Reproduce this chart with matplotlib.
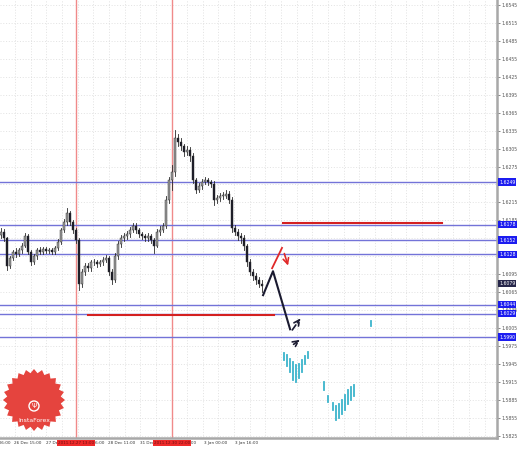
import numpy as np
import matplotlib
matplotlib.use("Agg")
import matplotlib.pyplot as plt
from matplotlib.patches import Polygon, Rectangle, Circle
import matplotlib.transforms as mtransforms

# Bougies (une toutes les 3 px environ)
closes = [1.6166, 1.6155, 1.6109, 1.6122, 1.6132, 1.6129, 1.6135, 1.6142, 1.6159, 1.6132,
          1.6115, 1.6125, 1.6135, 1.6132, 1.6137, 1.6134, 1.6135, 1.6132, 1.6139, 1.6149,
          1.6169, 1.6182, 1.6197, 1.6182, 1.6169, 1.6152, 1.6079, 1.6099, 1.6109, 1.6105,
          1.6115, 1.6115, 1.6112, 1.6115, 1.6119, 1.6122, 1.6099, 1.6085, 1.6125, 1.6145,
          1.6155, 1.6159, 1.6162, 1.6169, 1.6176, 1.6169, 1.6162, 1.6159, 1.6155, 1.6159,
          1.6152, 1.6142, 1.6166, 1.6169, 1.6176, 1.6219, 1.6252, 1.6266, 1.6323, 1.6316,
          1.6309, 1.6299, 1.6303, 1.6293, 1.6252, 1.6236, 1.6242, 1.6249, 1.6252, 1.6249,
          1.6246, 1.6219, 1.6222, 1.6226, 1.6226, 1.6229, 1.6219, 1.6172, 1.6166, 1.6159,
          1.6155, 1.6142, 1.6115, 1.6099, 1.6092, 1.6085, 1.6079, 1.6075]
highs = [1.6172, 1.6170, 1.6158, 1.6126, 1.6136, 1.6138, 1.6139, 1.6147, 1.6164, 1.6162,
         1.6135, 1.6129, 1.6139, 1.6140, 1.6141, 1.6140, 1.6139, 1.6138, 1.6143, 1.6154,
         1.6173, 1.6188, 1.6205, 1.6200, 1.6186, 1.6172, 1.6155, 1.6104, 1.6114, 1.6113,
         1.6119, 1.6120, 1.6119, 1.6119, 1.6123, 1.6127, 1.6125, 1.6103, 1.6130, 1.6150,
         1.6160, 1.6164, 1.6167, 1.6174, 1.6181, 1.6180, 1.6172, 1.6166, 1.6163, 1.6164,
         1.6162, 1.6156, 1.6170, 1.6175, 1.6181, 1.6225, 1.6258, 1.6278, 1.6336, 1.6330,
         1.6322, 1.6313, 1.6310, 1.6308, 1.6297, 1.6256, 1.6247, 1.6254, 1.6257, 1.6256,
         1.6253, 1.6250, 1.6228, 1.6231, 1.6232, 1.6236, 1.6234, 1.6224, 1.6178, 1.6170,
         1.6164, 1.6160, 1.6146, 1.6120, 1.6104, 1.6097, 1.6090, 1.6085]
lows = [1.6155, 1.6150, 1.6102, 1.6105, 1.6118, 1.6124, 1.6126, 1.6131, 1.6140, 1.6128,
        1.6110, 1.6112, 1.6121, 1.6128, 1.6129, 1.6130, 1.6130, 1.6128, 1.6129, 1.6136,
        1.6146, 1.6165, 1.6178, 1.6177, 1.6164, 1.6147, 1.6068, 1.6074, 1.6094, 1.6100,
        1.6101, 1.6110, 1.6107, 1.6108, 1.6111, 1.6115, 1.6094, 1.6079, 1.6082, 1.6120,
        1.6140, 1.6150, 1.6154, 1.6158, 1.6165, 1.6164, 1.6158, 1.6154, 1.6150, 1.6151,
        1.6147, 1.6130, 1.6140, 1.6160, 1.6165, 1.6172, 1.6214, 1.6235, 1.6260, 1.6310,
        1.6303, 1.6292, 1.6294, 1.6285, 1.6247, 1.6230, 1.6232, 1.6238, 1.6245, 1.6244,
        1.6240, 1.6210, 1.6214, 1.6217, 1.6220, 1.6222, 1.6214, 1.6166, 1.6160, 1.6153,
        1.6148, 1.6136, 1.6108, 1.6093, 1.6086, 1.6078, 1.6073, 1.6066]
first_open = 1.6160

# Niveaux horizontaux (bleus) et leurs étiquettes
levels = [1.6249, 1.6178, 1.6152, 1.6128, 1.6044, 1.6029, 1.5990]
current_price = 1.6079

# Lignes rouges
red_vlines = [25.0, 57.0]
red_vlabels = ["2011.12.27 13:00", "2011.12.30 22:00"]
red_h1 = (29.0, 91.0, 1.6026)
red_h2 = (94.0, 147.0, 1.6181)

# Projection noire / rouge
black_x = [87.4, 90.7, 96.4]
black_y = [1.6060, 1.6100, 1.6003]
red_x = [90.4, 93.7]
red_y = [1.6105, 1.6139]

# Projection cyan (x, bas, haut)
cyan_x = [94.3, 95.3, 96.3, 97.3, 98.3, 99.3, 100.3, 101.3, 102.3, 123.3,
          107.7, 109.0, 110.7, 111.7, 112.7, 113.7, 114.7, 115.7, 116.7, 117.7]
cyan_lo = [1.5951, 1.5941, 1.5931, 1.5918, 1.5915, 1.5921, 1.5931, 1.5945, 1.5955, 1.6008,
           1.5901, 1.5881, 1.5868, 1.5851, 1.5855, 1.5861, 1.5868, 1.5878, 1.5885, 1.5891]
cyan_hi = [1.5963, 1.5960, 1.5954, 1.5948, 1.5943, 1.5945, 1.5951, 1.5958, 1.5965, 1.6017,
           1.5915, 1.5891, 1.5880, 1.5875, 1.5878, 1.5885, 1.5893, 1.5901, 1.5906, 1.5910]

# Axe des temps
xtick_pos = [-1.4, 9.0, 19.5, 29.9, 40.3, 50.8, 61.2, 71.6, 82.0]
xtick_lab = ["26 Dec 06:00", "26 Dec 15:00", "27 Dec 00:00", "27 Dec 16:00", "28 Dec 11:00",
             "31 Dec 08:00", "2 Jan 10:00", "3 Jan 00:00", "3 Jan 16:00"]

yticks = [round(1.6545 - 0.003 * k, 4) for k in range(25)]
# étiquettes cachées sous les cadres bleus
hidden_ticks = [1.6245, 1.6155, 1.6125]

fig = plt.figure(figsize=(5.19, 4.49), dpi=100)
ax = fig.add_axes([0, 11 / 449, 497 / 519, 438 / 449])
ax.set_xlim(-0.3, 165.37)
ax.set_ylim(1.58212, 1.65534)

# grille
for gx in np.arange(4.7, 166, 5.217):
    ax.axvline(gx, color="#d8d8d8", lw=0.5, ls=(0, (1.5, 2.5)), zorder=0)
for gy in yticks:
    ax.axhline(gy, color="#d8d8d8", lw=0.5, ls=(0, (1.5, 2.5)), zorder=0)

for vx in red_vlines:
    ax.axvline(vx, color="#f08a8a", lw=1.0, zorder=1)

for lv in levels:
    ax.axhline(lv, color="#7373d8", lw=1.0, zorder=2)

# bougies
opens = [first_open] + closes[:-1]
for i in range(len(closes)):
    o, c, h, l = opens[i], closes[i], highs[i], lows[i]
    ax.plot([i, i], [l, h], color="#2a2a2a", lw=0.6, zorder=3)
    col = "#9a9a9a" if c >= o else "#1c1c28"
    ax.add_patch(Rectangle((i - 0.3, min(o, c)), 0.6, max(abs(c - o), 0.00008),
                           facecolor=col, edgecolor="#2a2a2a", lw=0.3, zorder=4))

ax.plot([red_h1[0], red_h1[1]], [red_h1[2]] * 2, color="#d42020", lw=1.5, zorder=5)
ax.plot([red_h2[0], red_h2[1]], [red_h2[2]] * 2, color="#d42020", lw=1.5, zorder=5)

ax.plot(black_x, black_y, color="#1a1a30", lw=1.5, zorder=6)
ax.annotate("", xy=(100.4, 1.6025), xytext=(96.6, 1.5998),
            arrowprops=dict(arrowstyle="->", color="#1a1a30", lw=1.2, ls="--"), zorder=6)
ax.annotate("", xy=(100.4, 1.5988), xytext=(96.8, 1.5975),
            arrowprops=dict(arrowstyle="->", color="#1a1a30", lw=1.2, ls="--"), zorder=6)
ax.plot(red_x, red_y, color="#e02828", lw=1.3, zorder=6)
ax.annotate("", xy=(96.0, 1.6105), xytext=(94.2, 1.6134),
            arrowprops=dict(arrowstyle="->", color="#e02828", lw=1.2), zorder=6)

for cx, lo, hi in zip(cyan_x, cyan_lo, cyan_hi):
    ax.plot([cx, cx], [lo, hi], color="#3cb4cc", lw=1.3, zorder=6)

# axes
for s in ["top", "left"]:
    ax.spines[s].set_visible(False)
for s in ["right", "bottom"]:
    ax.spines[s].set_color("#a8a8a8")
    ax.spines[s].set_linewidth(1.8)
ax.yaxis.tick_right()
ax.set_yticks(yticks)
ax.set_yticklabels(["" if v in hidden_ticks else f"{v:.4f}" for v in yticks],
                   fontsize=3.3, color="#333333")
ax.tick_params(axis="y", length=2, width=0.5, pad=1.5, colors="#555555")
ax.set_xticks([])

trans = mtransforms.blended_transform_factory(ax.transData, ax.transAxes)
for xp, lab in zip(xtick_pos, xtick_lab):
    ax.text(xp, -0.012, lab, transform=trans, fontsize=3.0, color="#333333",
            ha="center", va="center", clip_on=False)
for xp, lab in zip(red_vlines, red_vlabels):
    ax.text(xp, -0.012, lab, transform=trans, fontsize=3.0, color="#701010",
            ha="center", va="center", clip_on=False, zorder=10,
            bbox=dict(boxstyle="square,pad=0.25", fc="#ee2a2a", ec="none"))

ytrans = mtransforms.blended_transform_factory(ax.transAxes, ax.transData)
for lv in levels:
    ax.text(1.004, lv, f"{lv:.4f}", transform=ytrans, fontsize=3.3, color="white",
            ha="left", va="center", clip_on=False, zorder=10,
            bbox=dict(boxstyle="square,pad=0.25", fc="#1c1cf0", ec="none"))
ax.text(1.004, current_price, f"{current_price:.4f}", transform=ytrans, fontsize=3.3,
        color="white", ha="left", va="center", clip_on=False, zorder=10,
        bbox=dict(boxstyle="square,pad=0.25", fc="#26264a", ec="none"))

# logo
ov = fig.add_axes([0, 0, 1, 1], zorder=5)
ov.set_xlim(0, 519)
ov.set_ylim(449, 0)
ov.axis("off")
ov.patch.set_alpha(0)
ang = np.linspace(0, 2 * np.pi, 49)[:-1]
rad = np.where(np.arange(48) % 2 == 0, 31, 27)
ov.add_patch(Polygon(np.c_[34 + rad * np.cos(ang), 400 + rad * np.sin(ang)],
                     closed=True, fc="#e5443e", ec="none"))
ov.add_patch(Circle((34, 406), 5, fc="none", ec="white", lw=1.0))
ov.text(34, 406.5, "Ψ", color="white", fontsize=5, ha="center", va="center")
ov.text(34, 420, "InstaForex", color="white", fontsize=4.4, ha="center", va="center")

fig.savefig("out.png", dpi=100)
